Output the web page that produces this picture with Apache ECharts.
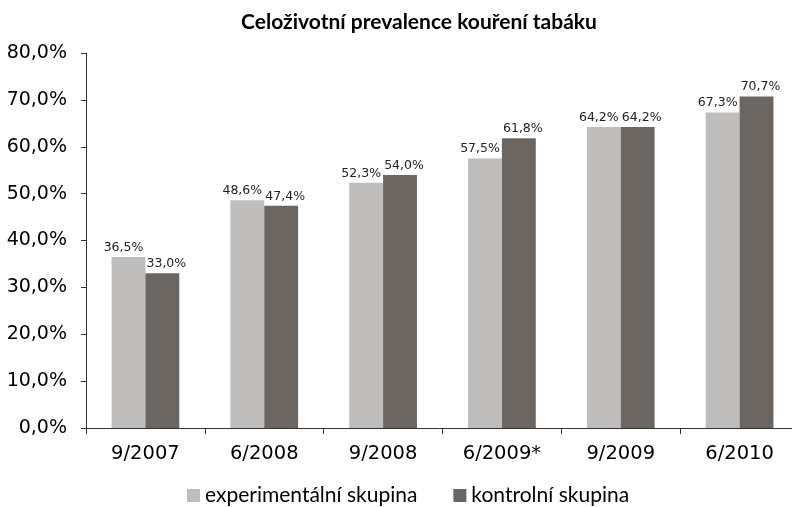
<!DOCTYPE html>
<html>
<head>
<meta charset="utf-8">
<script src="https://cdn.jsdelivr.net/npm/echarts@6/dist/echarts.min.js"></script>
<style>html,body{margin:0;padding:0;background:#fff}#c{width:792px;height:507px}</style>
</head>
<body>
<div id="c"></div>
<script>
const categories = ['9/2007', '6/2008', '9/2008', '6/2009*', '9/2009', '6/2010'];
const experimental = [36.5, 48.6, 52.3, 57.5, 64.2, 67.3];
const control = [33.0, 47.4, 54.0, 61.8, 64.2, 70.7];
const seriesNames = ['experimentální skupina', 'kontrolní skupina'];
const titleText = 'Celoživotní prevalence kouření tabáku';

const fmt = v => v.toFixed(1).replace('.', ',') + '%';
const chart = echarts.init(document.getElementById('c'));
const labelStyle = (dx) => ({
  show: true, position: 'top', distance: 3, offset: [dx, 0],
  fontFamily: 'DejaVu Sans', fontSize: 12.5, color: '#222',
  formatter: p => fmt(p.value)
});
chart.setOption({
  animation: false,
  title: {
    text: titleText, left: 414, top: 7, textAlign: 'center',
    textStyle: { fontFamily: 'Lato', fontWeight: 'bold', fontSize: 21, color: '#000' }
  },
  legend: {
    top: 480, left: 182, itemWidth: 13, itemHeight: 13, itemGap: 36,
    icon: 'rect',
    textStyle: { fontFamily: 'Lato', fontSize: 21, color: '#000' },
    data: seriesNames
  },
  grid: { left: 86, top: 53, bottom: 79, width: 713, outerBoundsMode: 'none', containLabel: false },
  xAxis: {
    type: 'category', data: categories,
    axisLine: { lineStyle: { color: '#333', width: 1 } },
    axisTick: { show: true, length: 6, lineStyle: { color: '#333' } },
    axisLabel: { fontFamily: 'DejaVu Sans', fontSize: 19.5, color: '#000', margin: 16 }
  },
  yAxis: {
    type: 'value', min: 0, max: 80, interval: 10,
    axisLine: { show: true, lineStyle: { color: '#333', width: 1 } },
    axisTick: { show: true, length: 5, lineStyle: { color: '#333' } },
    splitLine: { show: false },
    axisLabel: { fontFamily: 'DejaVu Sans', fontSize: 19, color: '#000', margin: 19, formatter: fmt }
  },
  series: [
    { name: seriesNames[0], type: 'bar', data: experimental, barGap: '0%', barCategoryGap: '43%',
      itemStyle: { color: '#bfbdbb' }, label: labelStyle(-5) },
    { name: seriesNames[1], type: 'bar', data: control,
      itemStyle: { color: '#6b6662' }, label: labelStyle(4) }
  ]
});
</script>
</body>
</html>
